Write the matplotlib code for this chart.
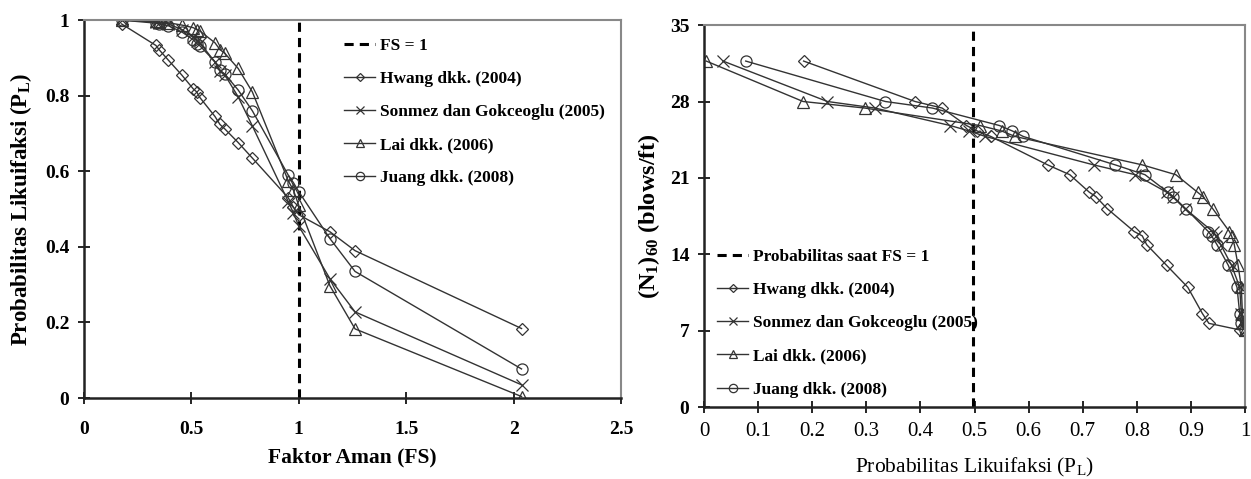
import numpy as np
import matplotlib
matplotlib.use("Agg")
import matplotlib.pyplot as plt

plt.rcParams['font.family'] = ['Liberation Serif', 'DejaVu Serif']
plt.rcParams['mathtext.default'] = 'regular'

# shared soil points: safety factor and (N1)60 for each data row
fs = [2.037, 1.262, 1.145, 1.0, 0.975, 0.951, 0.784, 0.718, 0.656, 0.633,
      0.61, 0.54, 0.525, 0.509, 0.455, 0.393, 0.351, 0.335, 0.175]
n160 = [31.7, 28.0, 27.4, 25.8, 25.3, 24.8, 22.2, 21.3, 19.7, 19.3,
        18.2, 16.1, 15.7, 14.9, 13.0, 11.0, 8.6, 7.7, 7.1]

# liquefaction probability by method
pl_hwang = [0.184, 0.39, 0.44, 0.485, 0.505, 0.53, 0.635, 0.676, 0.712, 0.724,
            0.745, 0.795, 0.81, 0.818, 0.855, 0.894, 0.921, 0.933, 0.99]
pl_sonmez = [0.035, 0.228, 0.316, 0.455, 0.49, 0.52, 0.72, 0.797, 0.855, 0.866,
             0.889, 0.94, 0.946, 0.955, 0.975, 0.99, 0.993, 0.995, 1.0]
pl_lai = [0.004, 0.183, 0.297, 0.51, 0.55, 0.575, 0.81, 0.872, 0.912, 0.922,
          0.94, 0.971, 0.975, 0.98, 0.987, 0.993, 0.995, 0.997, 1.0]
pl_juang = [0.077, 0.335, 0.422, 0.546, 0.57, 0.59, 0.76, 0.815, 0.857, 0.867,
            0.89, 0.932, 0.938, 0.948, 0.969, 0.985, 0.99, 0.992, 1.0]

series = [
    ("Hwang dkk. (2004)", pl_hwang, 'D', 6),
    ("Sonmez dan Gokceoglu (2005)", pl_sonmez, 'x', 8.5),
    ("Lai dkk. (2006)", pl_lai, '^', 8.5),
    ("Juang dkk. (2008)", pl_juang, 'o', 8),
]

pl_at_fs1 = 0.497

fig = plt.figure(figsize=(12.51, 4.79), dpi=100)
ax1 = fig.add_axes([0.0671, 0.169, 0.4293, 0.789])
ax2 = fig.add_axes([0.5628, 0.1493, 0.4325, 0.7985])


def style_axes(ax):
    for side in ['left', 'bottom']:
        ax.spines[side].set_linewidth(1.8)
        ax.spines[side].set_color('#222222')
    for side in ['top', 'right']:
        ax.spines[side].set_linewidth(1.5)
        ax.spines[side].set_color('#888888')
    ax.tick_params(direction='inout', length=9, width=1.2, labelsize=14, pad=6)
    for lab in ax.get_xticklabels() + ax.get_yticklabels():
        lab.set_fontweight('bold')


leg_kw = dict(frameon=False, prop={'size': 12.5, 'weight': 'bold'},
              labelspacing=0.98, handlelength=1.8, handletextpad=0.25,
              markerscale=0.75)

# left: FS vs PL
ax1.axvline(1.0, color='black', ls=(0, (3, 2)), lw=2.2, label='FS = 1')
for name, pl, mk, ms in series:
    ax1.plot(fs, pl, color='#333333', lw=1.0, marker=mk, ms=ms, mfc='none',
             mec='#333333', mew=0.9, label=name)
ax1.set_xlim(0, 2.5)
ax1.set_ylim(0, 1)
ax1.set_xticks([0, 0.5, 1, 1.5, 2, 2.5])
ax1.set_xticklabels(['0', '0.5', '1', '1.5', '2', '2.5'])
ax1.set_yticks([0, 0.2, 0.4, 0.6, 0.8, 1])
ax1.set_yticklabels(['0', '0.2', '0.4', '0.6', '0.8', '1'])
style_axes(ax1)
ax1.tick_params(axis='x', pad=12)
ax1.set_xlabel('Faktor Aman (FS)', fontsize=15.5, fontweight='bold', labelpad=7)
ax1.set_ylabel('Probabilitas Likuifaksi (P$_L$)', fontsize=16.5,
               fontweight='bold', labelpad=8)
ax1.legend(loc='upper left', bbox_to_anchor=(0.455, 0.995), **leg_kw)

# right: PL vs (N1)60
ax2.axvline(pl_at_fs1, color='black', ls=(0, (3, 2)), lw=2.2,
            label='Probabilitas saat FS = 1')
for name, pl, mk, ms in series:
    ax2.plot(pl, n160, color='#333333', lw=1.0, marker=mk, ms=ms, mfc='none',
             mec='#333333', mew=0.9, label=name)
ax2.set_xlim(0, 1)
ax2.set_ylim(0, 35)
ax2.set_xticks(np.arange(0, 11) / 10)
ax2.set_xticklabels(['0', '0.1', '0.2', '0.3', '0.4', '0.5', '0.6', '0.7',
                     '0.8', '0.9', '1'])
ax2.set_yticks([0, 7, 14, 21, 28, 35])
style_axes(ax2)
for lab in ax2.get_xticklabels():
    lab.set_fontweight('normal')
    lab.set_fontsize(15)
ax2.set_xlabel('Probabilitas Likuifaksi (P$_L$)', fontsize=15.5, labelpad=11)
ax2.set_ylabel('(N$_1$)$_{60}$ (blows/ft)', fontsize=17.5, fontweight='bold',
               labelpad=6)
ax2.legend(loc='lower left', bbox_to_anchor=(-0.005, -0.015), **leg_kw)

fig.savefig('out.png', dpi=100)
